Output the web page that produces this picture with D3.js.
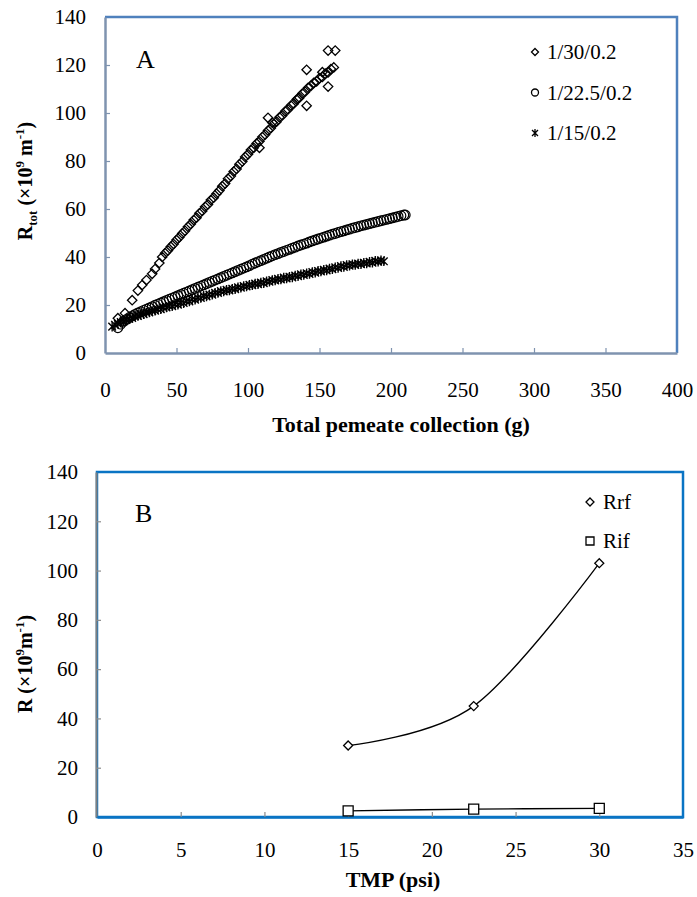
<!DOCTYPE html>
<html><head><meta charset="utf-8">
<script src="https://cdn.jsdelivr.net/npm/d3@7"></script>
<style>
body{margin:0;background:#fff;}
</style></head>
<body><svg id="c" width="697" height="897"></svg>
<script>
// ---------- Panel A data ----------
const seriesNamesA = ["1/30/0.2", "1/22.5/0.2", "1/15/0.2"];
const xTicksA = [0, 50, 100, 150, 200, 250, 300, 350, 400];
const yTicksA = [0, 20, 40, 60, 80, 100, 120, 140];

const d30x = [9,14,19,23,26,29,33,35,38,40,42,44,46,48,50,52,54,56,58,60,62,64,66,68,70,72,74,76,78,80,82,84,86,88,90,92,94,96,98,100,102,104,106,108,110,112,114,116,118,120,122,124,126,128,130,132,134,136,138,140,142,144,146,148,150,152,154,156,158,160,
  108,114,141,141,156,156,161,117,135,152];
const d30y = [14.5,16.6,22,26,28.3,30.4,33,35,37.5,40.0,41.6,42.7,44.3,45.4,47.1,48.2,49.8,50.9,52.6,53.7,55.4,56.4,58.2,59.2,60.9,61.9,63.7,64.7,66.4,67.7,69.5,70.6,72.6,73.7,75.6,76.7,78.6,79.8,81.7,82.8,84.6,85.5,87.3,88.2,90.0,91.0,92.7,93.7,95.5,96.4,98.2,99.0,100.7,101.5,103.1,103.9,105.6,106.4,108.1,108.9,110.5,111.3,112.6,113.2,114.5,115.0,116.4,116.9,118.3,119.0,
  85.5,98,118,103,111,126,126,96,106,117];

const d22x = [9,11,13,15,17,19,21,23,25,27,29,31,33,35,37,39,41,43,45,47,49,51,53,55,57,59,61,63,65,67,69,71,73,75,77,79,81,83,85,87,89,91,93,95,97,99,101,103,105,107,109,111,113,115,117,119,121,123,125,127,129,131,133,135,137,139,141,143,145,147,149,151,153,155,157,159,161,163,165,167,169,171,173,175,177,179,181,183,185,187,189,191,193,195,197,199,201,203,205,207,209,210];
const d22y = [10.5,12,13.2,14,14.8,15.5,16.1,16.7,17.2,17.8,18.3,18.8,19.3,19.9,20.4,20.9,21.4,21.9,22.4,22.9,23.4,23.9,24.4,24.9,25.4,25.9,26.4,26.9,27.4,27.9,28.4,28.9,29.4,29.9,30.4,30.9,31.4,31.9,32.4,32.9,33.4,33.9,34.4,34.9,35.4,35.9,36.4,37.0,37.5,38.0,38.5,39.0,39.5,40.0,40.5,41.0,41.4,41.9,42.3,42.8,43.2,43.7,44.1,44.6,45.0,45.4,45.8,46.3,46.7,47.1,47.5,47.9,48.3,48.7,49.1,49.5,49.8,50.2,50.6,50.9,51.3,51.6,52.0,52.3,52.6,53.0,53.3,53.6,53.9,54.2,54.5,54.8,55.1,55.4,55.7,56.0,56.3,56.6,56.9,57.2,57.5,57.5];

const d15x = [5,7,9,11,13,15,17,19,21,23,25,27,29,31,33,35,37,39,41,43,45,47,49,51,53,55,57,59,61,63,65,67,69,71,73,75,77,79,81,83,85,87,89,91,93,95,97,99,101,103,105,107,109,111,113,115,117,119,121,123,125,127,129,131,133,135,137,139,141,143,145,147,149,151,153,155,157,159,161,163,165,167,169,171,173,175,177,179,181,183,185,187,189,191,193,195];
const d15y = [11.0,11.8,12.2,12.9,13.2,13.8,14.3,14.6,15.3,15.4,16.0,16.2,16.8,16.9,17.5,17.6,18.2,18.2,18.9,19.0,19.6,19.5,20.3,20.1,20.9,20.8,21.6,21.5,22.4,22.2,23.0,22.9,23.8,23.6,24.4,24.3,25.1,25.0,25.8,25.6,26.3,26.1,26.8,26.6,27.4,27.2,27.9,27.7,28.4,28.2,28.9,28.7,29.4,29.1,29.9,29.7,30.4,30.2,30.9,30.6,31.4,31.1,31.8,31.5,32.3,32.0,32.8,32.5,33.2,32.9,33.7,33.5,34.2,34.0,34.7,34.4,35.2,34.9,35.7,35.4,36.2,35.9,36.6,36.4,37.0,36.7,37.3,37.0,37.6,37.3,38.0,37.6,38.4,38.0,38.6,38.2];

// ---------- Panel B data ----------
const tmp = [15, 22.5, 30];
const rrf = [29, 45, 103];
const rif = [2.5, 3.2, 3.5];
const seriesNamesB = ["Rrf", "Rif"];
const xTicksB = [0, 5, 10, 15, 20, 25, 30, 35];
const yTicksB = [0, 20, 40, 60, 80, 100, 120, 140];

const FONT = "'Liberation Serif', 'Times New Roman', Times, serif";
const svg = d3.select("#c").attr("font-family", FONT);

function diamond(r){return `M0,${-r}L${r},0L0,${r}L${-r},0Z`;}
function square(r){return `M${-r},${-r}H${r}V${r}H${-r}Z`;}
function star(r){return `M${-r},${-r}L${r},${r}M${r},${-r}L${-r},${r}M0,${-r-1}V${r+1}`;}
function txt(g){return g.append("text").attr("font-family", FONT).attr("fill","#000");}

// ================= Panel A =================
const A = {l:105, r:677, t:17, b:353};
const xA = d3.scaleLinear().domain([0,400]).range([A.l, A.r]);
const yA = d3.scaleLinear().domain([0,140]).range([A.b, A.t]);
const gA = svg.append("g");

gA.append("path").attr("d",`M${A.l},${A.t}H${A.r}V${A.b}`).attr("fill","none").attr("stroke","#4F81BD").attr("stroke-width",2.5);

const axAy = gA.append("g").attr("transform",`translate(${A.l},0)`)
  .call(d3.axisLeft(yA).tickValues(yTicksA).tickSizeInner(-5).tickSizeOuter(0).tickPadding(19));
const axAx = gA.append("g").attr("transform",`translate(0,${A.b})`)
  .call(d3.axisBottom(xA).tickValues(xTicksA).tickSizeInner(-5).tickSizeOuter(0).tickPadding(29));
[axAy, axAx].forEach(a=>{
  a.attr("font-family", FONT).attr("font-size", 21);
  a.select(".domain").attr("stroke","#7F93AF").attr("stroke-width",2.5);
  a.selectAll(".tick line").attr("stroke","#7F93AF").attr("stroke-width",1.2);
  a.selectAll("text").attr("font-family", FONT).attr("font-size", 21).attr("fill","#000");
});
axAx.selectAll(".tick").filter(d=>d===0||d===400).select("line").remove();
axAy.selectAll(".tick").filter(d=>d===0||d===140).select("line").remove();

const pts30 = d30x.map((x,i)=>[x,d30y[i]]);
const pts22 = d22x.map((x,i)=>[x,d22y[i]]);
const pts15 = d15x.map((x,i)=>[x,d15y[i]]);
gA.append("g").selectAll("path").data(pts30).join("path")
  .attr("transform",d=>`translate(${xA(d[0])},${yA(d[1])})`).attr("d",diamond(4.7))
  .attr("fill","none").attr("stroke","#000").attr("stroke-width",1.3);
gA.append("g").selectAll("circle").data(pts22).join("circle")
  .attr("cx",d=>xA(d[0])).attr("cy",d=>yA(d[1])).attr("r",4.8)
  .attr("fill","none").attr("stroke","#000").attr("stroke-width",1.2);
gA.append("g").selectAll("path").data(pts15).join("path")
  .attr("transform",d=>`translate(${xA(d[0])},${yA(d[1])})`).attr("d",star(3.8))
  .attr("fill","none").attr("stroke","#000").attr("stroke-width",1.4);

txt(gA).attr("x",136).attr("y",68).attr("font-size",26).text("A");

const legShapes = [diamond(3.5), null, star(3)];
seriesNamesA.forEach((n,i)=>{
  const y = 52 + i*40.5;
  if(i===1){
    gA.append("circle").attr("cx",535).attr("cy",y).attr("r",3.5).attr("fill","none").attr("stroke","#000").attr("stroke-width",1.3);
  } else {
    gA.append("path").attr("transform",`translate(535,${y})`).attr("d",legShapes[i]).attr("fill","none").attr("stroke","#000").attr("stroke-width",1.3);
  }
  txt(gA).attr("x",547).attr("y",y+7).attr("font-size",21).text(n);
});

txt(gA).attr("x",401).attr("y",432).attr("text-anchor","middle")
  .attr("font-size",22).attr("font-weight","bold").text("Total  pemeate collection (g)");
const tA = txt(gA).attr("transform","translate(32,181) rotate(-90)").attr("text-anchor","middle")
  .attr("font-size",20).attr("font-weight","bold");
tA.append("tspan").text("R");
tA.append("tspan").attr("dy",5).attr("font-size",13).text("tot");
tA.append("tspan").attr("dy",-5).text(" (×10");
tA.append("tspan").attr("dy",-8).attr("font-size",13).text("9");
tA.append("tspan").attr("dy",8).text(" m");
tA.append("tspan").attr("dy",-8).attr("font-size",13).text("-1");
tA.append("tspan").attr("dy",8).text(")");

// ================= Panel B =================
const B = {l:97, r:683, t:472, b:817};
const xB = d3.scaleLinear().domain([0,35]).range([B.l, B.r]);
const yB = d3.scaleLinear().domain([0,140]).range([B.b, B.t]);
const gB = svg.append("g");
gB.append("rect").attr("x",B.l).attr("y",B.t).attr("width",B.r-B.l).attr("height",B.b-B.t)
  .attr("fill","none").attr("stroke","#0A74C4").attr("stroke-width",2.5);

const axBy = gB.append("g").attr("transform",`translate(${B.l-1},0)`)
  .call(d3.axisLeft(yB).tickValues(yTicksB).tickSizeInner(-5).tickSizeOuter(0).tickPadding(18));
const axBx = gB.append("g").attr("transform",`translate(0,${B.b})`)
  .call(d3.axisBottom(xB).tickValues(xTicksB).tickSizeInner(-5).tickSizeOuter(0).tickPadding(25));
axBy.select(".domain").attr("stroke","#808080").attr("stroke-width",2);
axBx.select(".domain").attr("stroke","#0A74C4").attr("stroke-width",2.5);
[axBy, axBx].forEach(a=>{
  a.attr("font-family", FONT).attr("font-size", 21);
  a.selectAll(".tick line").attr("stroke","#8C8C8C").attr("stroke-width",1.2);
  a.selectAll("text").attr("font-family", FONT).attr("font-size", 21).attr("fill","#000");
});
axBx.selectAll(".tick").filter(d=>d===0||d===35).select("line").remove();
axBy.selectAll(".tick").filter(d=>d===0||d===140).select("line").remove();

const line = d3.line().x(d=>xB(d[0])).y(d=>yB(d[1])).curve(d3.curveCardinal.tension(0));
const pRrf = tmp.map((t,i)=>[t,rrf[i]]);
const pRif = tmp.map((t,i)=>[t,rif[i]]);
gB.append("path").attr("d",line(pRrf)).attr("fill","none").attr("stroke","#000").attr("stroke-width",1.3);
gB.append("path").attr("d",line(pRif)).attr("fill","none").attr("stroke","#000").attr("stroke-width",1.3);
gB.append("g").selectAll("path").data(pRrf).join("path")
  .attr("transform",d=>`translate(${xB(d[0])},${yB(d[1])})`).attr("d",diamond(4.5))
  .attr("fill","#fff").attr("stroke","#000").attr("stroke-width",1.3);
gB.append("g").selectAll("path").data(pRif).join("path")
  .attr("transform",d=>`translate(${xB(d[0])},${yB(d[1])})`).attr("d",square(5))
  .attr("fill","#fff").attr("stroke","#000").attr("stroke-width",1.3);

txt(gB).attr("x",135).attr("y",522).attr("font-size",26).text("B");

seriesNamesB.forEach((n,i)=>{
  const y = 502 + i*39;
  gB.append("path").attr("transform",`translate(590,${y})`).attr("d", i===0?diamond(4):square(4))
    .attr("fill","none").attr("stroke","#000").attr("stroke-width",1.3);
  txt(gB).attr("x",603).attr("y",y+7).attr("font-size",21).text(n);
});

txt(gB).attr("x",393).attr("y",887).attr("text-anchor","middle")
  .attr("font-size",22).attr("font-weight","bold").text("TMP (psi)");
const tB = txt(gB).attr("transform","translate(32,664) rotate(-90)").attr("text-anchor","middle")
  .attr("font-size",20).attr("font-weight","bold");
tB.append("tspan").text("R  (×10");
tB.append("tspan").attr("dy",-8).attr("font-size",13).text("9");
tB.append("tspan").attr("dy",8).text("m");
tB.append("tspan").attr("dy",-8).attr("font-size",13).text("-1");
tB.append("tspan").attr("dy",8).text(")");
</script></body></html>
